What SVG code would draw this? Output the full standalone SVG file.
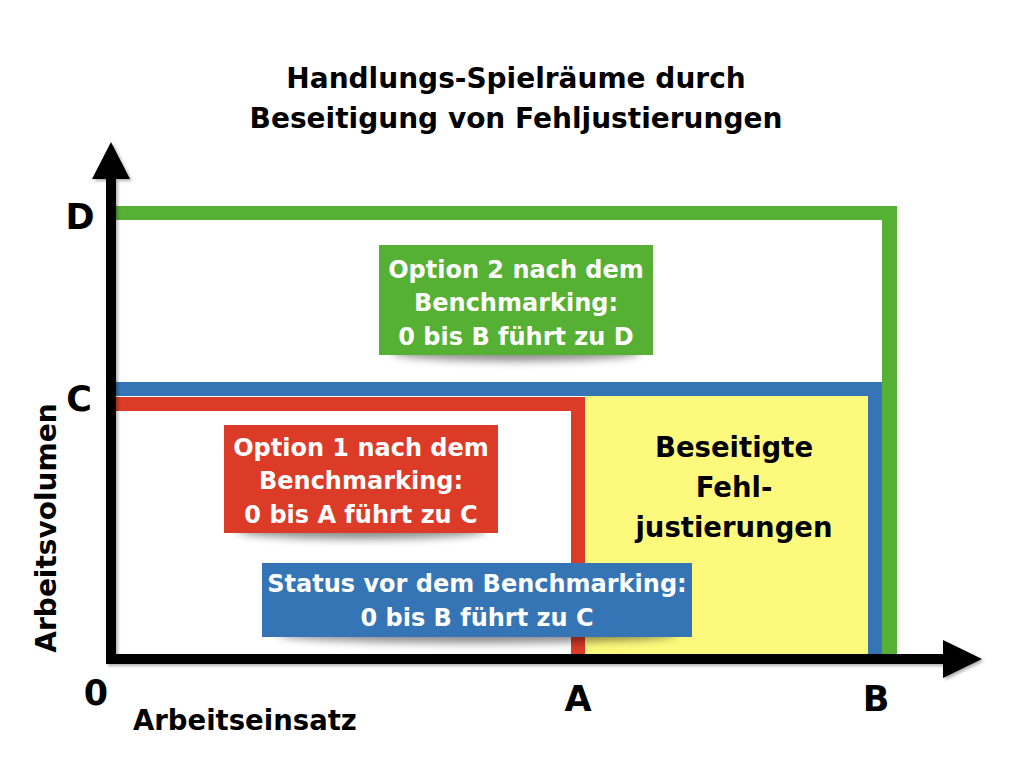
<svg xmlns="http://www.w3.org/2000/svg" width="1024" height="768" viewBox="0 0 1024 768">
<defs>
<style>
.t{font-family:"DejaVu Sans","Liberation Sans",sans-serif;font-weight:bold;}
.w{fill:#ffffff;font-size:24px;text-anchor:middle;}
.k{fill:#000000;}
.ax{font-size:35px;text-anchor:middle;}
</style>
<filter id="blur" x="-20%" y="-200%" width="140%" height="500%"><feGaussianBlur stdDeviation="4"/></filter>
<filter id="ds" x="-5%" y="-5%" width="110%" height="110%"><feDropShadow dx="2" dy="2" stdDeviation="1.5" flood-color="#000" flood-opacity="0.3"/></filter>
</defs>
<rect width="1024" height="768" fill="#ffffff"/>

<g id="title" class="t k" font-size="28" text-anchor="middle">
<text x="516" y="88">Handlungs-Spielräume durch</text>
<text x="516" y="128">Beseitigung von Fehljustierungen</text>
</g>

<g id="region-yellow">
<rect x="585" y="396" width="283" height="258" fill="#fdf97b" filter="url(#ds)"/>
<g class="t k" font-size="27.5" text-anchor="middle">
<text x="734" y="457">Beseitigte</text>
<text x="734" y="497">Fehl-</text>
<text x="734" y="537">justierungen</text>
</g>
</g>

<g id="region-green" fill="#56b034">
<rect x="115" y="206" width="782" height="14"/>
<rect x="882" y="206" width="15" height="449"/>
</g>
<g id="region-blue" fill="#3575b6">
<rect x="115" y="382" width="767" height="14"/>
<rect x="868" y="382" width="14" height="273"/>
</g>
<g id="region-red" fill="#db3b27">
<rect x="115" y="397" width="470" height="14"/>
<rect x="571" y="397" width="14" height="258"/>
</g>

<g id="axes" fill="#000000" filter="url(#ds)">
<rect x="106" y="172" width="10" height="492"/>
<rect x="106" y="654" width="840" height="10"/>
<polygon points="111,142 92,179 130,179"/>
<polygon points="982,659 943,640 943,678"/>
</g>

<g id="axis-labels" class="t k">
<text class="ax" x="80" y="229">D</text>
<text class="ax" x="79" y="411">C</text>
<text class="ax" x="96" y="705">0</text>
<text class="ax" x="578" y="711">A</text>
<text class="ax" x="876" y="711">B</text>
<text x="133" y="730" font-size="27.5">Arbeitseinsatz</text>
<text transform="translate(56,528) rotate(-90)" font-size="28" text-anchor="middle">Arbeitsvolumen</text>
</g>

<g id="box-option2">
<ellipse cx="516" cy="352" rx="125" ry="9" fill="#000" opacity="0.45" filter="url(#blur)"/>
<rect x="379" y="245" width="274" height="110" fill="#56b034"/>
<text class="t w" x="516" y="278">Option 2 nach dem</text>
<text class="t w" x="516" y="311">Benchmarking:</text>
<text class="t w" x="516" y="345">0 bis B führt zu D</text>
</g>

<g id="box-option1">
<ellipse cx="361" cy="530" rx="125" ry="9" fill="#000" opacity="0.45" filter="url(#blur)"/>
<rect x="224" y="425" width="274" height="108" fill="#db3b27"/>
<text class="t w" x="361" y="456">Option 1 nach dem</text>
<text class="t w" x="361" y="489">Benchmarking:</text>
<text class="t w" x="361" y="523">0 bis A führt zu C</text>
</g>

<g id="box-status">
<ellipse cx="477" cy="634" rx="200" ry="9" fill="#000" opacity="0.45" filter="url(#blur)"/>
<rect x="262" y="563" width="430" height="74" fill="#3575b6"/>
<text class="t w" x="477" y="592">Status vor dem Benchmarking:</text>
<text class="t w" x="477" y="626">0 bis B führt zu C</text>
</g>
</svg>
